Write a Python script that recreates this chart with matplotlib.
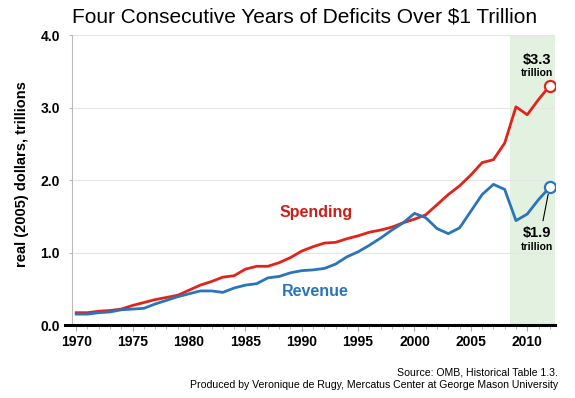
import numpy as np
import matplotlib
matplotlib.use('Agg')
import matplotlib.pyplot as plt
from matplotlib.ticker import MultipleLocator

plt.rcParams['font.family'] = ['Liberation Sans', 'DejaVu Sans']

# data (trillions)
years = list(range(1970, 2013))
spending = [0.17, 0.17, 0.19, 0.20, 0.22, 0.27, 0.31, 0.35, 0.38, 0.41,
            0.48, 0.55, 0.60, 0.66, 0.68, 0.77, 0.81, 0.81, 0.86, 0.93,
            1.02, 1.08, 1.13, 1.14, 1.19, 1.23, 1.28, 1.31, 1.35, 1.41,
            1.46, 1.52, 1.66, 1.80, 1.92, 2.07, 2.24, 2.28, 2.51, 3.01,
            2.90, 3.11, 3.30]
revenue = [0.15, 0.15, 0.17, 0.18, 0.21, 0.22, 0.23, 0.29, 0.34, 0.39,
           0.43, 0.47, 0.47, 0.45, 0.51, 0.55, 0.57, 0.65, 0.67, 0.72,
           0.75, 0.76, 0.78, 0.84, 0.94, 1.01, 1.10, 1.20, 1.31, 1.41,
           1.54, 1.48, 1.33, 1.26, 1.34, 1.57, 1.80, 1.94, 1.87, 1.44,
           1.53, 1.73, 1.90]
shade_years = (2008.5, 2012.5)

RED = '#e2231a'
BLUE = '#2a74bb'

fig = plt.figure(figsize=(5.75, 3.98), dpi=100)
ax = fig.add_axes([0.1247, 0.1834, 0.8403, 0.7286])

ax.axvspan(*shade_years, color='#e3f1e1', zorder=0, lw=0)
ax.plot(years, spending, color=RED, lw=2, zorder=3)
ax.plot(years, revenue, color=BLUE, lw=2, zorder=3)
ax.plot(years[-1], spending[-1], 'o', ms=8, mfc='white', mec=RED, mew=1.6, zorder=4)
ax.plot(years[-1], revenue[-1], 'o', ms=8, mfc='white', mec=BLUE, mew=1.6, zorder=4)

ax.set_xlim(1969.6, 2012.45)
ax.set_ylim(0, 4)
ax.set_yticks(np.arange(0, 4.1, 1.0))
ax.set_yticklabels(['%.1f' % v for v in np.arange(0, 4.1, 1.0)])
ax.xaxis.set_major_locator(MultipleLocator(5))
ax.xaxis.set_minor_locator(MultipleLocator(1))
ax.grid(axis='y', color='#e6e6e6', lw=0.8, zorder=1)
ax.set_axisbelow(True)

for s in ['top', 'right', 'bottom']:
    ax.spines[s].set_visible(False)
ax.spines['left'].set_color('#bbbbbb')
ax.spines['left'].set_linewidth(0.8)
ax.plot([-0.014, 1.0], [0, 0], transform=ax.transAxes, color='black',
        lw=2.2, clip_on=False, zorder=5)

ax.tick_params(axis='y', length=2.5, color='#bbbbbb', pad=6, labelsize=10)
ax.tick_params(axis='x', which='both', direction='out', color='#aaaaaa',
               labelsize=10, pad=3)
ax.tick_params(axis='x', which='major', length=4)
ax.tick_params(axis='x', which='minor', length=3)
for lab in ax.get_xticklabels() + ax.get_yticklabels():
    lab.set_fontweight('bold')

ax.set_ylabel('real (2005) dollars, trillions', fontsize=10.5, fontweight='bold')
ax.yaxis.set_label_coords(-0.088, 0.52)

ax.text(1991.3, 1.55, 'Spending', color='#cc1f1a', fontsize=11.5, fontweight='bold',
        ha='center', va='center')
ax.text(1991.2, 0.46, 'Revenue', color=BLUE, fontsize=11.5, fontweight='bold',
        ha='center', va='center')

ax.text(2010.85, 3.66, '$3.3', fontsize=10.5, fontweight='bold', ha='center', va='center')
ax.text(2010.85, 3.47, 'trillion', fontsize=7.5, fontweight='bold', ha='center', va='center')
ax.plot([2011.85, 2011.4], [1.80, 1.44], color='black', lw=0.8)
ax.text(2010.85, 1.27, '$1.9', fontsize=10.5, fontweight='bold', ha='center', va='center')
ax.text(2010.85, 1.07, 'trillion', fontsize=7.5, fontweight='bold', ha='center', va='center')

fig.text(0.529, 0.958, 'Four Consecutive Years of Deficits Over $1 Trillion',
         fontsize=15, ha='center', va='center')
fig.text(0.970, 0.063, 'Source: OMB, Historical Table 1.3.', fontsize=7.55, ha='right', va='center')
fig.text(0.970, 0.032, 'Produced by Veronique de Rugy, Mercatus Center at George Mason University',
         fontsize=7.55, ha='right', va='center')

fig.savefig('out.png', dpi=100)
